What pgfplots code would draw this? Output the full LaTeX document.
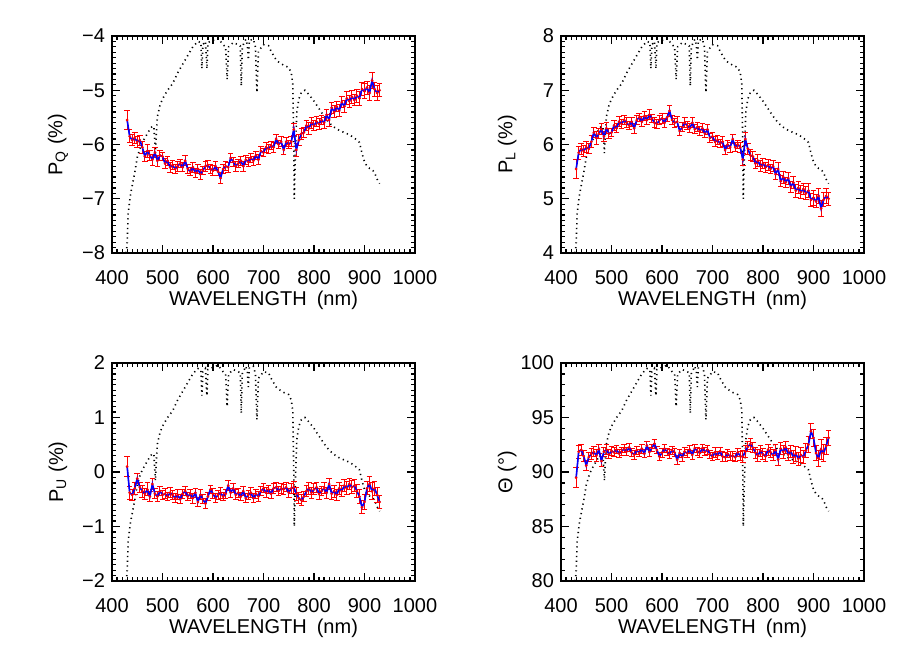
\documentclass[border=0pt]{standalone}
\usepackage{fontspec}
\setmainfont{Liberation Sans}
\usepackage{pgfplots}
\usepackage{pgfplotstable}
\pgfplotsset{compat=1.18}

% polarisation spectrum: wl [nm], Q, U, L [%], theta [deg], err [%], err theta [deg]
\pgfplotstableread{
wl Q U L T e eT
430 -5.55 0.10 5.55 89.48 0.18 0.93
435 -5.85 -0.38 5.85 91.86 0.12 0.59
440 -5.92 -0.42 5.92 92.03 0.10 0.48
445 -5.88 -0.30 5.88 91.46 0.11 0.54
450 -5.95 -0.12 5.95 90.58 0.10 0.48
455 -5.92 -0.28 5.92 91.36 0.09 0.44
460 -6.05 -0.35 6.05 91.66 0.11 0.52
465 -6.22 -0.40 6.22 91.84 0.10 0.46
470 -6.12 -0.32 6.12 91.50 0.12 0.56
475 -6.20 -0.45 6.20 92.08 0.09 0.42
480 -6.28 -0.22 6.28 91.00 0.10 0.46
485 -6.15 -0.40 6.15 91.86 0.09 0.42
490 -6.30 -0.45 6.30 92.05 0.10 0.45
495 -6.20 -0.35 6.20 91.62 0.09 0.42
500 -6.22 -0.42 6.22 91.93 0.08 0.37
505 -6.35 -0.40 6.35 91.80 0.09 0.41
510 -6.30 -0.45 6.30 92.05 0.08 0.36
515 -6.42 -0.38 6.42 91.70 0.09 0.40
520 -6.38 -0.42 6.38 91.89 0.08 0.36
525 -6.45 -0.48 6.45 92.13 0.08 0.36
530 -6.40 -0.42 6.40 91.88 0.09 0.40
535 -6.35 -0.50 6.35 92.26 0.08 0.36
540 -6.42 -0.40 6.42 91.79 0.08 0.36
545 -6.30 -0.35 6.30 91.59 0.09 0.41
550 -6.45 -0.45 6.45 92.00 0.08 0.36
555 -6.50 -0.40 6.50 91.76 0.08 0.35
560 -6.42 -0.48 6.42 92.14 0.09 0.40
565 -6.52 -0.38 6.52 91.67 0.08 0.35
570 -6.45 -0.55 6.45 92.44 0.08 0.36
575 -6.55 -0.42 6.55 91.84 0.09 0.39
580 -6.48 -0.50 6.48 92.21 0.08 0.35
585 -6.40 -0.58 6.40 92.60 0.09 0.40
590 -6.38 -0.45 6.38 92.02 0.08 0.36
595 -6.45 -0.32 6.45 91.42 0.08 0.36
600 -6.48 -0.40 6.48 91.77 0.09 0.40
605 -6.40 -0.48 6.40 92.15 0.08 0.36
610 -6.50 -0.42 6.50 91.85 0.08 0.35
615 -6.62 -0.38 6.62 91.64 0.10 0.43
620 -6.45 -0.45 6.45 92.00 0.08 0.36
625 -6.40 -0.40 6.40 91.79 0.08 0.36
630 -6.42 -0.25 6.42 91.12 0.09 0.40
635 -6.25 -0.38 6.25 91.74 0.08 0.37
640 -6.32 -0.30 6.32 91.36 0.08 0.36
645 -6.40 -0.42 6.40 91.88 0.09 0.40
650 -6.35 -0.38 6.35 91.71 0.08 0.36
655 -6.30 -0.45 6.30 92.05 0.08 0.36
660 -6.40 -0.35 6.40 91.57 0.09 0.40
665 -6.28 -0.48 6.28 92.19 0.08 0.36
670 -6.32 -0.42 6.32 91.90 0.08 0.36
675 -6.25 -0.38 6.25 91.74 0.09 0.41
680 -6.30 -0.48 6.30 92.18 0.08 0.36
685 -6.20 -0.40 6.20 91.85 0.08 0.37
690 -6.28 -0.45 6.28 92.05 0.09 0.41
695 -6.12 -0.35 6.12 91.64 0.08 0.37
700 -6.15 -0.30 6.15 91.40 0.08 0.37
705 -6.05 -0.38 6.05 91.80 0.09 0.43
710 -6.08 -0.32 6.08 91.51 0.08 0.38
715 -6.02 -0.40 6.02 91.90 0.08 0.38
720 -6.05 -0.30 6.05 91.42 0.09 0.43
725 -5.90 -0.28 5.90 91.36 0.08 0.39
730 -6.00 -0.35 6.00 91.67 0.08 0.38
735 -5.95 -0.30 5.95 91.44 0.09 0.43
740 -6.10 -0.32 6.10 91.50 0.09 0.42
745 -5.95 -0.28 5.95 91.35 0.08 0.39
750 -6.00 -0.38 6.00 91.81 0.08 0.38
755 -5.95 -0.30 5.95 91.44 0.09 0.43
760 -5.72 -0.28 5.72 91.40 0.11 0.55
765 -6.10 -0.40 6.10 91.88 0.12 0.56
770 -5.92 -0.48 5.92 92.32 0.10 0.48
775 -5.80 -0.52 5.80 92.57 0.10 0.49
780 -5.78 -0.45 5.78 92.23 0.09 0.45
785 -5.65 -0.35 5.65 91.77 0.10 0.51
790 -5.70 -0.30 5.70 91.51 0.11 0.55
795 -5.60 -0.38 5.60 91.94 0.10 0.51
800 -5.65 -0.32 5.65 91.62 0.10 0.51
805 -5.58 -0.28 5.58 91.44 0.09 0.46
810 -5.62 -0.40 5.62 92.04 0.10 0.51
815 -5.55 -0.35 5.55 91.81 0.09 0.46
820 -5.60 -0.30 5.60 91.53 0.10 0.51
825 -5.45 -0.38 5.45 92.00 0.10 0.53
830 -5.55 -0.22 5.55 91.14 0.11 0.57
835 -5.32 -0.40 5.32 92.15 0.10 0.54
840 -5.40 -0.35 5.40 91.86 0.11 0.58
845 -5.30 -0.42 5.30 92.27 0.10 0.54
850 -5.38 -0.30 5.38 91.60 0.11 0.59
855 -5.22 -0.35 5.22 91.92 0.10 0.55
860 -5.30 -0.25 5.30 91.35 0.11 0.59
865 -5.15 -0.30 5.15 91.67 0.12 0.67
870 -5.20 -0.22 5.20 91.21 0.11 0.61
875 -5.12 -0.28 5.12 91.57 0.12 0.67
880 -5.18 -0.25 5.18 91.38 0.11 0.61
885 -5.10 -0.35 5.10 91.97 0.12 0.67
890 -5.15 -0.45 5.15 92.50 0.13 0.72
895 -4.98 -0.65 4.98 93.74 0.12 0.69
900 -5.02 -0.55 5.02 93.14 0.14 0.80
905 -4.95 -0.30 4.95 91.74 0.12 0.69
910 -5.05 -0.22 5.05 91.25 0.13 0.74
915 -4.82 -0.35 4.82 92.08 0.15 0.89
920 -4.98 -0.30 4.98 91.73 0.13 0.75
925 -5.05 -0.42 5.05 92.38 0.14 0.79
930 -5.00 -0.55 5.00 93.15 0.12 0.69
}\pol

% relative throughput (0 = bottom of panel, 1 = top of panel)
\pgfplotstableread{
wl t
428 0.00
430 0.04
432 0.18
436 0.26
440 0.31
445 0.37
450 0.44
455 0.48
460 0.51
465 0.53
470 0.55
475 0.57
480 0.585
483 0.58
486 0.46
488 0.56
490 0.63
495 0.68
500 0.71
505 0.73
510 0.75
520 0.78
530 0.83
540 0.87
550 0.91
560 0.95
570 0.975
576 0.97
578 0.85
580 0.96
585 0.975
588 0.85
590 0.97
600 0.98
610 0.99
620 0.96
625 0.95
628 0.80
631 0.95
640 0.97
650 0.96
654 0.955
656 0.77
658 0.95
665 0.985
668 0.96
670 0.89
672 0.98
680 0.985
684 0.95
687 0.74
690 0.93
700 0.96
710 0.955
715 0.93
720 0.91
725 0.89
730 0.88
740 0.865
750 0.855
755 0.83
758 0.78
760 0.50
761 0.25
763 0.45
766 0.65
770 0.71
775 0.74
782 0.75
790 0.73
800 0.70
810 0.665
820 0.63
830 0.60
840 0.58
850 0.565
860 0.555
870 0.545
880 0.53
890 0.51
895 0.46
900 0.42
905 0.40
910 0.39
915 0.385
920 0.37
925 0.34
930 0.32
}\thru

\pgfplotsset{
  panel/.style={
    scale only axis, width=151.5pt, height=108.5pt,
    anchor=south west,
    font=\fontsize{10}{11}\selectfont,
    xmin=400, xmax=1000,
    xtick={400,500,...,1000},
    xticklabels={400,500,600,700,800,900,1000},
    minor xtick={410,420,...,990},
    tick align=inside,
    major tick length=4pt, minor tick length=2.2pt,
    axis line style={line width=0.9pt},
    tick style={black, line width=0.6pt},
    minor tick style={black, line width=0.6pt},
    xlabel={WAVELENGTH\enspace(nm)},
    xlabel style={at={(axis description cs:0.5,-0.217)}, anchor=center},
    ylabel style={at={(axis description cs:-0.178,0.5)}, anchor=center},
    xticklabel style={yshift=-5pt},
  },
  thru/.style={black, line width=0.8pt, dash pattern=on 0.6pt off 1.8pt},
  errs/.style={red, line width=0.5pt, mark=*, mark size=0.4pt,
    error bars/.cd, y dir=both, y explicit,
    error bar style={red, line width=0.5pt},
    error mark options={red, rotate=90, mark size=1.4pt, line width=0.5pt}},
  curve/.style={blue, line width=0.8pt, no marks},
}

\begin{document}
\begin{tikzpicture}
\path[use as bounding box] (0,0) rectangle (449.5pt,327pt);

% --- P_Q ---
\begin{axis}[panel, at={(56pt,200.5pt)},
    ymin=-8, ymax=-4, ytick={-8,-7,-6,-5,-4},
    yticklabels={−8,−7,−6,−5,−4}, minor ytick={-7.9,-7.8,...,-4.05},
    ylabel={P\textsubscript{Q} (\%)}]
\addplot[thru] table[x=wl, y expr={-8+4*\thisrow{t}}] {\thru};
\addplot[errs] table[x=wl, y=Q, y error=e] {\pol};
\addplot[curve] table[x=wl, y=Q] {\pol};
\end{axis}

% --- P_L ---
\begin{axis}[panel, at={(280.5pt,200.5pt)},
    ymin=4, ymax=8, ytick={4,5,6,7,8},
    yticklabels={4,5,6,7,8}, minor ytick={4.1,4.2,...,7.95},
    ylabel={P\textsubscript{L} (\%)}]
\addplot[thru] table[x=wl, y expr={4+4*\thisrow{t}}] {\thru};
\addplot[errs] table[x=wl, y=L, y error=e] {\pol};
\addplot[curve] table[x=wl, y=L] {\pol};
\end{axis}

% --- P_U ---
\begin{axis}[panel, at={(56pt,36.5pt)}, height=109pt,
    ymin=-2, ymax=2, ytick={-2,-1,0,1,2},
    yticklabels={−2,−1,0,1,2}, minor ytick={-1.9,-1.8,...,1.95},
    ylabel={P\textsubscript{U} (\%)}]
\addplot[thru] table[x=wl, y expr={-2+4*\thisrow{t}}] {\thru};
\addplot[errs] table[x=wl, y=U, y error=e] {\pol};
\addplot[curve] table[x=wl, y=U] {\pol};
\end{axis}

% --- position angle ---
\begin{axis}[panel, at={(280.5pt,36.5pt)}, height=109pt,
    ymin=80, ymax=100, ytick={80,85,90,95,100},
    yticklabels={80,85,90,95,100}, minor ytick={81,82,...,99},
    ylabel={Θ (°)}]
\addplot[thru] table[x=wl, y expr={80+20*\thisrow{t}}] {\thru};
\addplot[errs] table[x=wl, y=T, y error=eT] {\pol};
\addplot[curve] table[x=wl, y=T] {\pol};
\end{axis}
\end{tikzpicture}
\end{document}
